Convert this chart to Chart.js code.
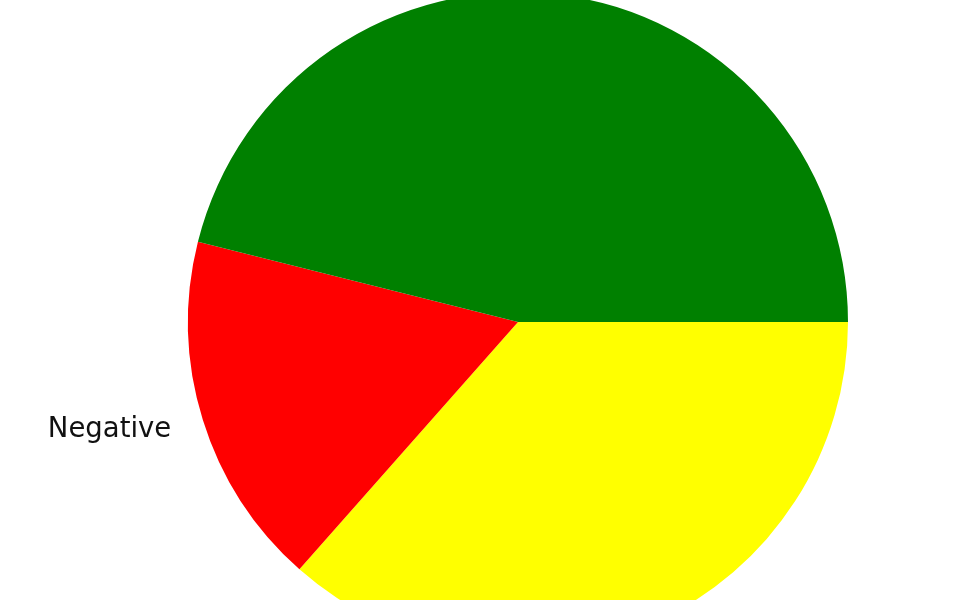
<!DOCTYPE html>
<html>
<head>
<meta charset="utf-8">
<script src="https://cdn.jsdelivr.net/npm/chart.js@4"></script>
<style>
  html, body { margin: 0; padding: 0; background: #ffffff; overflow: hidden; width: 960px; height: 600px; }
  #wrap { position: absolute; left: 0; top: -8px; }
</style>
</head>
<body>
<div id="wrap"><canvas id="c" width="1036" height="660"></canvas></div>
<script>
// Data (matplotlib draws counter-clockwise from east: Positive, Negative, Neutral)
const categories = ["Positive", "Negative", "Neutral"];
const counts = [53, 20, 42];

// Chart.js draws clockwise, so feed the series reversed and start at east
const revCats = categories.slice().reverse();
const revVals = counts.slice().reverse();
const colorMap = { "Positive": "#008000", "Negative": "#ff0000", "Neutral": "#ffff00" };

const outerLabels = {
  id: 'outerLabels',
  afterDatasetsDraw(chart) {
    const ctx = chart.ctx;
    const meta = chart.getDatasetMeta(0);
    ctx.save();
    ctx.font = '27.5px "DejaVu Sans"';
    ctx.fillStyle = '#111111';
    ctx.textBaseline = 'middle';
    meta.data.forEach((arc, i) => {
      const mid = (arc.startAngle + arc.endAngle) / 2;
      const r = arc.outerRadius * 1.1;
      const x = arc.x + Math.cos(mid) * r;
      const y = arc.y + Math.sin(mid) * r;
      ctx.textAlign = Math.cos(mid) < 0 ? 'right' : 'left';
      ctx.fillText(chart.data.labels[i], x, y);
    });
    ctx.restore();
  }
};

new Chart(document.getElementById('c'), {
  type: 'pie',
  data: {
    labels: revCats,
    datasets: [{
      data: revVals,
      backgroundColor: revCats.map(c => colorMap[c]),
      borderWidth: 0
    }]
  },
  options: {
    responsive: false,
    animation: false,
    rotation: 90,
    layout: { padding: 0 },
    plugins: {
      legend: { display: false },
      tooltip: { enabled: false }
    }
  },
  plugins: [outerLabels]
});
</script>
</body>
</html>
